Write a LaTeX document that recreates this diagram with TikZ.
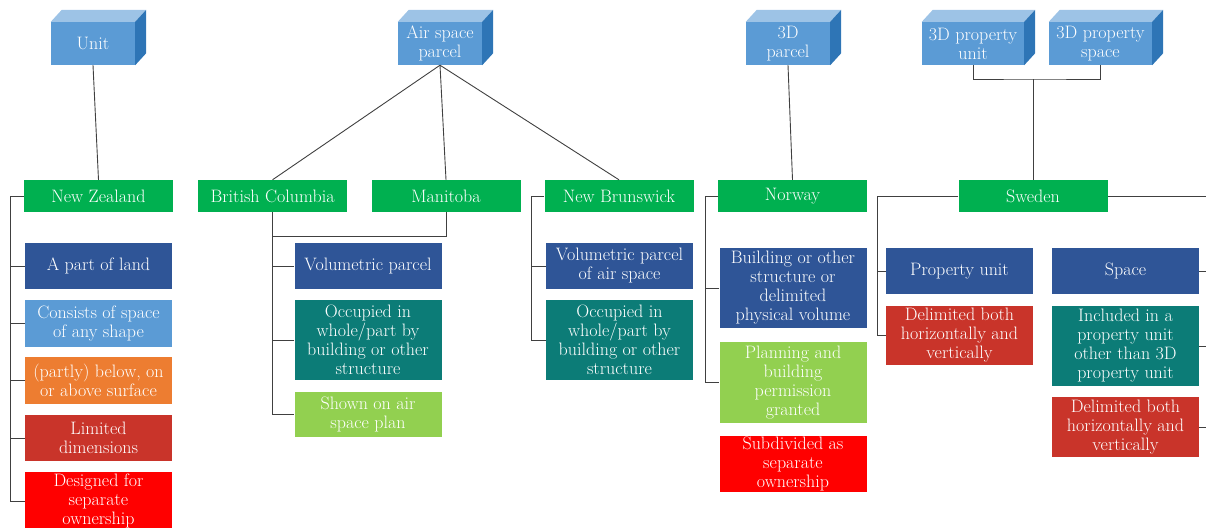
\documentclass[tikz,border=0pt]{standalone}
\usepackage{tikz}
\definecolor{countryGreen}{HTML}{00B050}
\definecolor{navyBox}{HTML}{2F5597}
\definecolor{skyBox}{HTML}{5B9BD5}
\definecolor{orangeBox}{HTML}{ED7D31}
\definecolor{brickBox}{HTML}{C9342A}
\definecolor{redBox}{HTML}{FF0000}
\definecolor{tealBox}{HTML}{0C7C77}
\definecolor{limeBox}{HTML}{92D050}
\definecolor{cubeTop}{HTML}{9DC3E6}
\definecolor{cubeSide}{HTML}{2E75B6}
\newcommand{\boxFont}[0]{\fontsize{18}{19}\selectfont}
% top and right faces of a term block
\newcommand{\cubeFaces}[1]{%
  \fill[cubeTop] (#1.north west) -- ++(11,-12) -- ([shift={(11,-12)}]#1.north east) -- (#1.north east) -- cycle;
  \fill[cubeSide] (#1.north east) -- ++(11,-12) -- ([shift={(11,-12)}]#1.south east) -- (#1.south east) -- cycle;}

\begin{document}
\begin{tikzpicture}[x=1pt, y=-1pt]
  \tikzset{
    box/.style={draw=none, text=white, align=center, font=\boxFont, inner sep=1pt},
    term/.style={box, fill=skyBox, minimum height=43},
    country/.style={box, fill=countryGreen, minimum width=149, minimum height=32},
    leaf/.style={box, minimum width=147},
    link/.style={draw=black!75, line width=0.9pt}
  }
  \useasboundingbox (0,0) rectangle (1206,527);
  \clip (0,0) rectangle (1206,527);

  % terms
  \node[term, minimum width=84] (T-1) at (93,43.5) {Unit};
  \node[term, minimum width=84] (T-2) at (440,43.5) {Air space\\parcel};
  \node[term, minimum width=84] (T-3) at (788,43.5) {3D\\parcel};
  \node[term, minimum width=102] (T-4) at (973,43.5) {3D property\\unit};
  \node[term, minimum width=103] (T-5) at (1100.5,43.5) {3D property\\space};
  \foreach \t in {T-1,T-2,T-3,T-4,T-5} {\cubeFaces{\t}}

  % countries
  \node[country] (NZ) at (98.5,196) {New Zealand};
  \node[country] (BC) at (272.5,196) {British Columbia};
  \node[country] (MB) at (446,196) {Manitoba};
  \node[country] (NB) at (619,196) {New Brunswick};
  \node[country] (NO) at (792.5,196) {Norway};
  \node[country] (SE) at (1033,196) {Sweden};

  % New Zealand
  \node[leaf, fill=navyBox, minimum height=46] (NZ-1) at (98.5,266) {A part of land};
  \node[leaf, fill=skyBox, minimum height=47] (NZ-2) at (98.5,323.5) {Consists of space\\of any shape};
  \node[leaf, fill=orangeBox, minimum height=47] (NZ-3) at (98.5,380.5) {(partly) below, on\\or above surface};
  \node[leaf, fill=brickBox, minimum height=46] (NZ-4) at (98.5,438) {Limited\\dimensions};
  \node[leaf, fill=redBox, minimum height=58] (NZ-5) at (98.5,501) {Designed for\\separate\\ownership};

  % British Columbia and Manitoba
  \node[leaf, fill=navyBox, minimum height=46] (BC-1) at (368,266) {Volumetric parcel};
  \node[leaf, fill=tealBox, minimum height=80] (BC-2) at (368,340) {Occupied in\\whole/part by\\building or other\\structure};
  \node[leaf, fill=limeBox, minimum height=45] (BC-3) at (368,414.5) {Shown on air\\space plan};

  % New Brunswick
  \node[leaf, fill=navyBox, minimum height=46] (NB-1) at (619.5,266) {Volumetric parcel\\of air space};
  \node[leaf, fill=tealBox, minimum height=80] (NB-2) at (619.5,340) {Occupied in\\whole/part by\\building or other\\structure};

  % Norway
  \node[leaf, fill=navyBox, minimum height=80] (NO-1) at (793,288) {Building or other\\structure or\\delimited\\physical volume};
  \node[leaf, fill=limeBox, minimum height=81] (NO-2) at (793,382.5) {Planning and\\building\\permission\\granted};
  \node[leaf, fill=redBox, minimum height=56] (NO-3) at (793,464) {Subdivided as\\separate\\ownership};

  % Sweden
  \node[leaf, fill=navyBox, minimum height=46] (SE-1) at (959.5,271) {Property unit};
  \node[leaf, fill=brickBox, minimum height=59] (SE-2) at (959.5,335.5) {Delimited both\\horizontally and\\vertically};
  \node[leaf, fill=navyBox, minimum height=46] (SE-3) at (1125.5,271) {Space};
  \node[leaf, fill=tealBox, minimum height=80] (SE-4) at (1125.5,346) {Included in a\\property unit\\other than 3D\\property unit};
  \node[leaf, fill=brickBox, minimum height=60] (SE-5) at (1125.5,427) {Delimited both\\horizontally and\\vertically};

  % terms to countries
  \draw[link] (T-1.south) -- (NZ.north);
  \draw[link] (T-2.south) -- (BC.north);
  \draw[link] (T-2.south) -- (MB.north);
  \draw[link] (T-2.south) -- (NB.north);
  \draw[link] (T-3.south) -- (NO.north);
  \coordinate (SE-bus) at (1033,79);
  \draw[link] (T-4.south) |- (SE-bus) -| (T-5.south);
  \draw[link] (SE-bus) -- (SE.north);

  % countries to properties
  \draw[link] (NZ.west) -| ([xshift=-14]NZ-5.west) -- (NZ-5.west);
  \foreach \c in {NZ-1,NZ-2,NZ-3,NZ-4} {\draw[link] (\c.west) -- ++(-14,0);}
  \draw[link] (BC.south) |- (BC-3.west);
  \draw[link] (MB.south) -- ++(0,24) -| (BC.south);
  \foreach \c in {BC-1,BC-2} {\draw[link] (\c.west) -- (\c.west -| BC.south);}
  \draw[link] (NB.west) -| ([xshift=-14]NB-2.west) -- (NB-2.west);
  \draw[link] (NB-1.west) -- ++(-14,0);
  \draw[link] (NO.west) -| ([xshift=-14]NO-2.west) -- (NO-2.west);
  \draw[link] (NO-1.west) -- ++(-14,0);
  \draw[link] (SE.west) -| ([xshift=-8]SE-2.west) -- (SE-2.west);
  \draw[link] (SE-1.west) -- ++(-8,0);
  \coordinate (SE-right) at (1212,196);
  \draw[link] (SE.east) -- (SE-right) |- (SE-5.east);
  \foreach \c in {SE-3,SE-4} {\draw[link] (\c.east) -- (\c.east -| SE-right);}
\end{tikzpicture}
\end{document}
